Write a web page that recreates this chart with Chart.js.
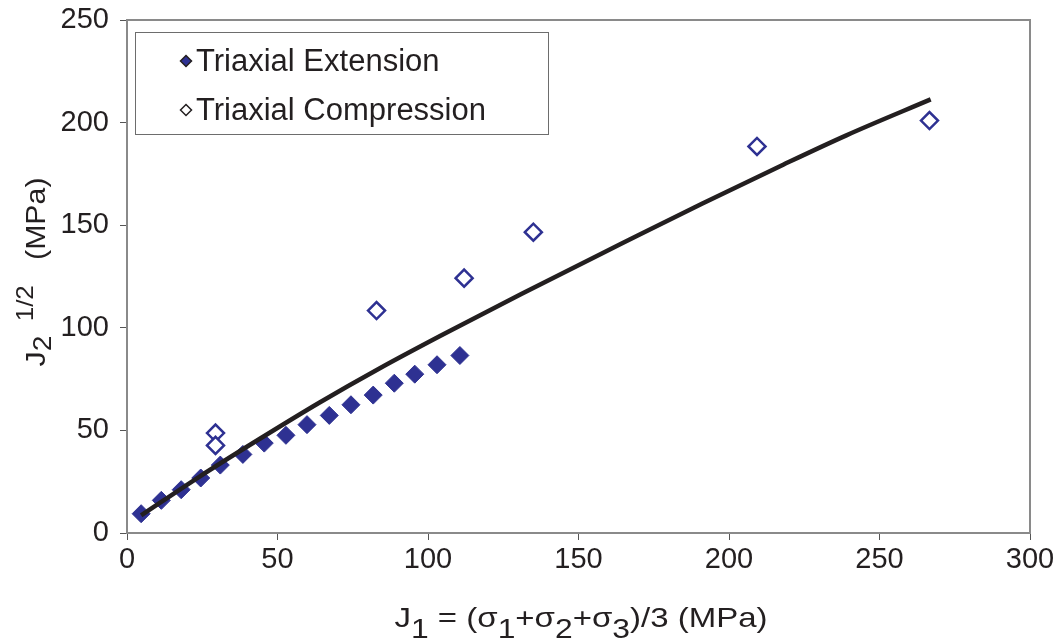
<!DOCTYPE html>
<html>
<head>
<meta charset="utf-8">
<script src="https://cdn.jsdelivr.net/npm/chart.js@4.4.1/dist/chart.umd.min.js"></script>
<style>
  html, body { margin: 0; padding: 0; background: #fff; }
  #wrap { width: 1059px; height: 641px; }
</style>
</head>
<body>
<div id="wrap"><canvas id="chart" width="1059" height="641"></canvas></div>
<script>
// Triaxial extension (filled diamonds)
const extX = [4.7, 11.4, 18.0, 24.5, 31.0, 38.5, 45.6, 52.8, 59.8, 67.2, 74.4, 81.8, 88.8, 95.6, 103.0, 110.6];
const extY = [9.4, 15.9, 21.1, 26.8, 33.1, 38.3, 43.8, 47.6, 52.8, 57.3, 62.5, 67.2, 73.0, 77.4, 82.0, 86.5];

// Triaxial compression (open diamonds)
const compX = [29.4, 29.4, 82.9, 112.0, 135.0, 209.3, 266.6];
const compY = [48.7, 42.7, 108.4, 124.2, 146.6, 188.4, 201.0];

// fitted failure curve
const curveX = [4.7, 24, 44, 64, 84, 104, 131, 164, 191, 218, 239, 267];
const curveY = [8.6, 27.4, 45.8, 63.6, 80.3, 96.0, 116.5, 140.8, 160.5, 179.5, 193.8, 211.3];

const xTicks = [0, 50, 100, 150, 200, 250, 300];
const yTicks = [0, 50, 100, 150, 200, 250];

const legendLabels = ['Triaxial Extension', 'Triaxial Compression'];

const navy = '#2e3192';
const ink = '#231f20';
const FONT = '"Liberation Sans", Arial, sans-serif';

function toPoints(xs, ys) {
    return xs.map((x, i) => ({ x: x, y: ys[i] }));
}

// draws a run of text pieces, some of them sub/superscript
function drawRuns(ctx, runs, x, y) {
    runs.forEach(r => {
        ctx.font = r.size + 'px ' + FONT;
        ctx.fillText(r.t, x, y + (r.dy || 0));
        x += ctx.measureText(r.t).width;
    });
}

function runsWidth(ctx, runs) {
    let w = 0;
    runs.forEach(r => {
        ctx.font = r.size + 'px ' + FONT;
        w += ctx.measureText(r.t).width;
    });
    return w;
}

const extrasPlugin = {
    id: 'extras',
    afterDraw(chart) {
        const ctx = chart.ctx;
        const area = chart.chartArea;
        ctx.save();

        // top and right frame
        ctx.strokeStyle = '#8a8a8a';
        ctx.lineWidth = 2;
        ctx.beginPath();
        ctx.moveTo(area.left, area.top);
        ctx.lineTo(area.right, area.top);
        ctx.lineTo(area.right, area.bottom);
        ctx.stroke();

        // legend box
        const bx = area.left + 8, by = area.top + 12, bw = 413, bh = 102;
        ctx.fillStyle = '#fff';
        ctx.fillRect(bx, by, bw, bh);
        ctx.strokeStyle = '#6d6d6d';
        ctx.lineWidth = 1;
        ctx.strokeRect(bx + 0.5, by + 0.5, bw, bh);

        ctx.textBaseline = 'middle';
        ctx.textAlign = 'left';
        legendLabels.forEach((label, i) => {
            const cy = by + 29 + i * 49;
            const mx = bx + 51;
            ctx.beginPath();
            ctx.moveTo(mx, cy - 5.5);
            ctx.lineTo(mx + 5.5, cy);
            ctx.lineTo(mx, cy + 5.5);
            ctx.lineTo(mx - 5.5, cy);
            ctx.closePath();
            ctx.fillStyle = i === 0 ? navy : '#fff';
            ctx.fill();
            ctx.strokeStyle = ink;
            ctx.lineWidth = 1.5;
            ctx.stroke();
            ctx.fillStyle = ink;
            ctx.font = '31px ' + FONT;
            ctx.fillText(label, bx + 61, cy + 1);
        });

        // x axis title
        ctx.textBaseline = 'alphabetic';
        ctx.fillStyle = ink;
        const xRuns = [
            { t: 'J', size: 28 },
            { t: '1', size: 27, dy: 11 },
            { t: ' = (σ', size: 28 },
            { t: '1', size: 27, dy: 11 },
            { t: '+σ', size: 28 },
            { t: '2', size: 27, dy: 11 },
            { t: '+σ', size: 28 },
            { t: '3', size: 27, dy: 11 },
            { t: ')/3 (MPa)', size: 28 }
        ];
        const xw = runsWidth(ctx, xRuns);
        ctx.save();
        ctx.translate(581, 627);
        ctx.scale(373 / xw, 1);
        drawRuns(ctx, xRuns, -xw / 2, 0);
        ctx.restore();

        // y axis title, rotated
        const yRuns = [
            { t: 'J', size: 28 },
            { t: '2', size: 26, dy: 6 },
            { t: '  1/2', size: 24, dy: -12 },
            { t: '   (MPa)', size: 28 }
        ];
        const yw = runsWidth(ctx, yRuns);
        ctx.translate(45, 272);
        ctx.rotate(-Math.PI / 2);
        ctx.scale(189 / yw, 1);
        drawRuns(ctx, yRuns, -yw / 2, 0);

        ctx.restore();
    }
};

const ctx = document.getElementById('chart').getContext('2d');
new Chart(ctx, {
    type: 'scatter',
    data: {
        datasets: [
            {
                label: 'Fit',
                data: toPoints(curveX, curveY),
                showLine: true,
                borderColor: ink,
                borderWidth: 4.5,
                pointRadius: 0,
                cubicInterpolationMode: 'monotone',
                order: 0
            },
            {
                label: legendLabels[0],
                data: toPoints(extX, extY),
                pointStyle: 'rectRot',
                pointRadius: 9,
                backgroundColor: navy,
                borderColor: navy,
                borderWidth: 1,
                order: 1
            },
            {
                label: legendLabels[1],
                data: toPoints(compX, compY),
                pointStyle: 'rectRot',
                pointRadius: 8.5,
                backgroundColor: '#fff',
                borderColor: navy,
                borderWidth: 2.5,
                order: 2
            }
        ]
    },
    options: {
        responsive: false,
        animation: false,
        layout: { padding: { left: 0, right: 29, top: 20, bottom: 0 } },
        plugins: {
            legend: { display: false },
            tooltip: { enabled: false }
        },
        scales: {
            x: {
                type: 'linear',
                min: 0,
                max: 300,
                afterBuildTicks: s => { s.ticks = xTicks.map(v => ({ value: v })); },
                afterFit: s => { s.height = 108; s.paddingLeft = 0; s.paddingRight = 0; },
                grid: { drawOnChartArea: false, drawTicks: true, tickLength: 7, color: '#555' },
                border: { color: '#8a8a8a', width: 2 },
                ticks: { color: ink, font: { family: FONT, size: 29 }, padding: 3 }
            },
            y: {
                type: 'linear',
                min: 0,
                max: 250,
                afterBuildTicks: s => { s.ticks = yTicks.map(v => ({ value: v })); },
                afterFit: s => { s.width = 127; s.paddingTop = 0; s.paddingBottom = 0; },
                grid: { drawOnChartArea: false, drawTicks: true, tickLength: 7, color: '#555' },
                border: { color: '#8a8a8a', width: 2 },
                ticks: { color: ink, font: { family: FONT, size: 29 }, padding: 11 }
            }
        }
    },
    plugins: [extrasPlugin]
});
</script>
</body>
</html>
